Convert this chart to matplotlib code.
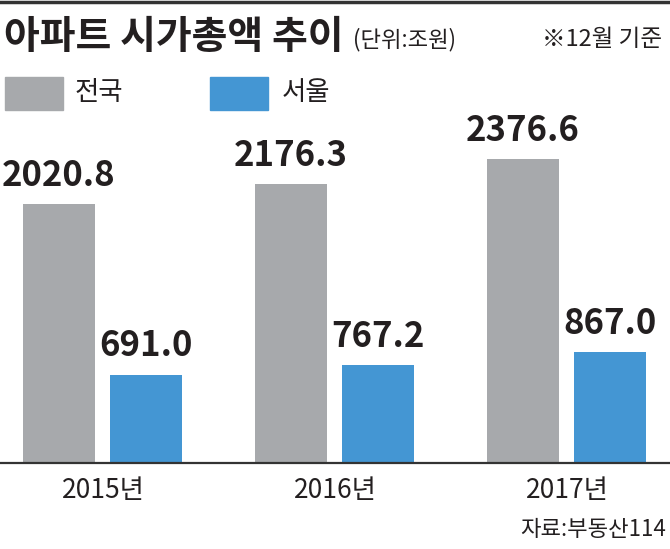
#!/usr/bin/env python3
# apartment market cap chart (2015-2017)

import numpy as np
import matplotlib
matplotlib.use("Agg")
import matplotlib.pyplot as plt
from matplotlib.patches import Rectangle

plt.rcParams['font.family'] = ['Noto Sans CJK KR', 'DejaVu Sans']

years = ["2015년", "2016년", "2017년"]
nation = [2020.8, 2176.3, 2376.6]
seoul = [691.0, 767.2, 867.0]
series_names = ["전국", "서울"]

GRAY = "#a7a9ac"
BLUE = "#4496d3"
TXT = "#231f20"


def main():
    fig = plt.figure(figsize=(6.7, 5.49), dpi=100)
    W, H = 670, 549

    # axes positioned so that baseline sits at y=463 px
    ax = fig.add_axes([0, 1 - 463 / H, 1, (463 - 100) / H])
    x = np.arange(len(years))
    w = 0.31
    ax.bar(x - 0.19, nation, w, color=GRAY)
    ax.bar(x + 0.187, seoul, w, color=BLUE)
    ax.set_xlim(-0.444, 2.444)
    ax.set_ylim(0, (463 - 100) / 0.128)
    for i in range(len(years)):
        ax.annotate(f"{nation[i]:.1f}", (x[i] - 0.19, nation[i]), xytext=(0, 8),
                    textcoords="offset points", ha="center", va="bottom",
                    fontsize=25, fontweight="bold", color=TXT)
        ax.annotate(f"{seoul[i]:.1f}", (x[i] + 0.187, seoul[i]), xytext=(0, 8),
                    textcoords="offset points", ha="center", va="bottom",
                    fontsize=25, fontweight="bold", color=TXT)
    ax.axis("off")
    ax.axhline(0, color="#333333", lw=1.6, clip_on=False)

    for i, yr in enumerate(years):
        fig.text((103 + 232 * i) / W, 1 - 490 / H, yr, ha="center", va="center",
                 fontsize=19, color=TXT)

    # top rule
    fig.add_artist(plt.Line2D([0, 1], [1 - 1.5 / H, 1 - 1.5 / H], color="#333333", lw=2.5))

    # title
    fig.text(4 / W, 1 - 38 / H, "아파트 시가총액 추이", ha="left", va="center",
             fontsize=28, fontweight="bold", color=TXT)
    fig.text(353 / W, 1 - 40 / H, "(단위:조원)", ha="left", va="center",
             fontsize=16, color=TXT)
    fig.text(662 / W, 1 - 40 / H, "※12월 기준", ha="right", va="center",
             fontsize=17, color=TXT)

    # legend
    for (x0, name, col, tx) in [(5, series_names[0], GRAY, 75), (210, series_names[1], BLUE, 282)]:
        fig.add_artist(Rectangle((x0 / W, 1 - 110 / H), 58 / W, 33 / H,
                                 transform=fig.transFigure, color=col))
        fig.text(tx / W, 1 - 93 / H, name, ha="left", va="center",
                 fontsize=19, color=TXT)

    fig.text(666 / W, 1 - 530 / H, "자료:부동산114", ha="right", va="center",
             fontsize=16, color=TXT)

    fig.savefig("out.png", dpi=100)


if __name__ == "__main__":
    main()
